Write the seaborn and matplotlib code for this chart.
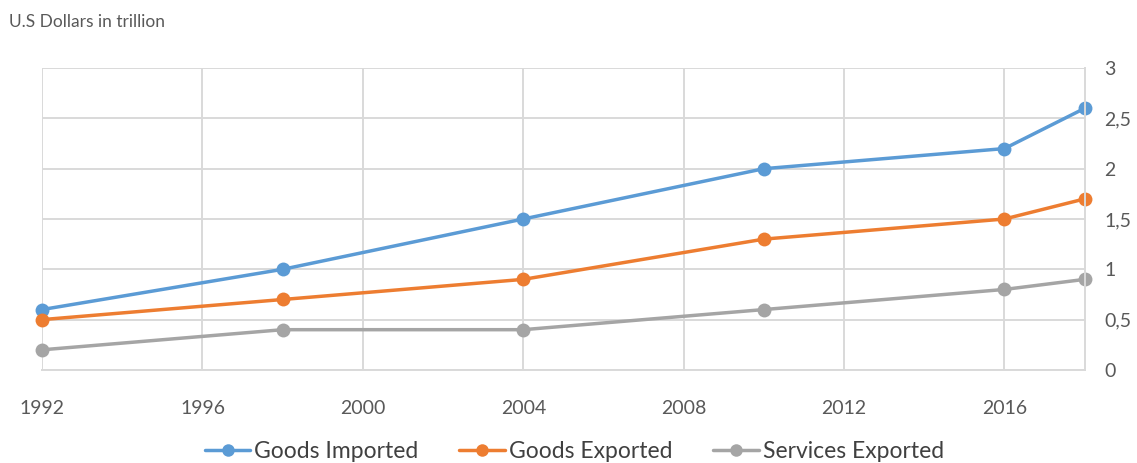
import pandas as pd
import seaborn as sns
import matplotlib.pyplot as plt

# data (trillion USD)
years = [1992, 1998, 2004, 2010, 2016, 2018]
goods_imported = [0.6, 1.0, 1.5, 2.0, 2.2, 2.6]
goods_exported = [0.5, 0.7, 0.9, 1.3, 1.5, 1.7]
services_exported = [0.2, 0.4, 0.4, 0.6, 0.8, 0.9]

series_names = ["Goods Imported", "Goods Exported", "Services Exported"]
colors = ["#5B9BD5", "#ED7D31", "#A5A5A5"]
x_ticks = [1992, 1996, 2000, 2004, 2008, 2012, 2016]
y_ticks = [0, 0.5, 1, 1.5, 2, 2.5, 3]
y_labels = ["0", "0,5", "1", "1,5", "2", "2,5", "3"]

df = pd.DataFrame({
    "year": years * 3,
    "value": goods_imported + goods_exported + services_exported,
    "series": [s for s in series_names for _ in years],
})

sns.set_style("white")
plt.rcParams['font.family'] = ['Lato', 'DejaVu Sans']

fig = plt.figure(figsize=(11.37, 4.63), dpi=100)
ax = fig.add_axes([0.037, 0.201, 0.917, 0.652])

sns.lineplot(data=df, x="year", y="value", hue="series", hue_order=series_names,
             palette=colors, marker="o", markersize=10, markeredgewidth=0,
             linewidth=2.5, ax=ax, legend=False)
for line in ax.lines:
    line.set_clip_on(False)

ax.set_xlim(1992, 2018)
ax.set_ylim(0, 3)
ax.set_xticks(x_ticks)
ax.set_yticks(y_ticks)
ax.set_yticklabels(y_labels)
ax.yaxis.tick_right()
ax.tick_params(axis="x", length=0, pad=22, labelsize=14, labelcolor="#595959")
ax.tick_params(axis="y", length=0, pad=14, labelsize=14, labelcolor="#595959")
ax.set_xlabel("")
ax.set_ylabel("")

ax.grid(True, color="#D9D9D9", linewidth=1.4)
ax.set_axisbelow(True)
for side in ["top", "left"]:
    ax.spines[side].set_visible(False)
for side in ["bottom", "right"]:
    ax.spines[side].set_color("#D9D9D9")
    ax.spines[side].set_linewidth(1.4)

fig.text(0.008, 0.952, "U.S Dollars in trillion", fontsize=12.5, color="#595959",
         va="center", ha="left")

handles = [plt.Line2D([], [], color=c, marker="o", markersize=9, linewidth=2.5,
                      markeredgewidth=0) for c in colors]
fig.legend(handles, series_names, loc="center", bbox_to_anchor=(0.505, 0.025),
           ncol=3, frameon=False, fontsize=16.5, labelcolor="#404040",
           handlelength=2.0, handletextpad=0.15, columnspacing=1.8)

fig.savefig("out.png", dpi=100)
